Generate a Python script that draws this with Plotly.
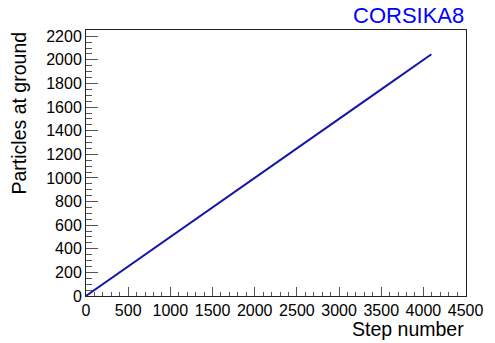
import plotly.graph_objects as go

# Particles reaching the ground versus step number
step_number = [0, 500, 1000, 1500, 2000, 2500, 3000, 3500, 4095]
particles_at_ground = [1, 250, 500, 750, 1000, 1250, 1500, 1750, 2048]

x_range = [0, 4505]
y_range = [0, 2253]

W, H = 495, 343
ML, MR, MT, MB = 86, 19, 30, 47

fig = go.Figure()
fig.add_trace(go.Scatter(
    x=step_number, y=particles_at_ground, mode="lines",
    line=dict(color="#1414aa", width=2), showlegend=False,
))

font = "Liberation Sans, Arial, sans-serif"
axis_common = dict(
    showline=True, linecolor="#222222", linewidth=1, mirror=True,
    showgrid=False, zeroline=False, ticks="inside", tickcolor="#555555",
    tickfont=dict(family=font, size=16, color="black"),
)
fig.update_xaxes(range=x_range, dtick=500, tick0=0, ticklen=9,
                 minor=dict(ticks="inside", dtick=100, ticklen=4.5, tickcolor="#555555"),
                 **axis_common)
fig.update_yaxes(range=y_range, dtick=200, tick0=0, ticklen=12,
                 minor=dict(ticks="inside", dtick=50, ticklen=6, tickcolor="#555555"),
                 **axis_common)

fig.add_annotation(text="Step number", xref="paper", yref="paper",
                   x=1.0, y=0, xanchor="right", yanchor="middle", yshift=-33,
                   showarrow=False, font=dict(family=font, size=19.5, color="black"))
fig.add_annotation(text="Particles at ground", xref="paper", yref="paper",
                   x=0, y=1.0, xanchor="center", yanchor="top", xshift=-68,
                   textangle=-90, showarrow=False,
                   font=dict(family=font, size=19.5, color="black"))
fig.add_annotation(text="CORSIKA8", xref="paper", yref="paper",
                   x=1.0, y=1.0, xanchor="right", yanchor="bottom", yshift=0,
                   showarrow=False, font=dict(family=font, size=22, color="#0000ff"))

fig.update_layout(
    width=W, height=H, margin=dict(l=ML, r=MR, t=MT, b=MB),
    paper_bgcolor="white", plot_bgcolor="white",
)
fig.write_html("out.html")
